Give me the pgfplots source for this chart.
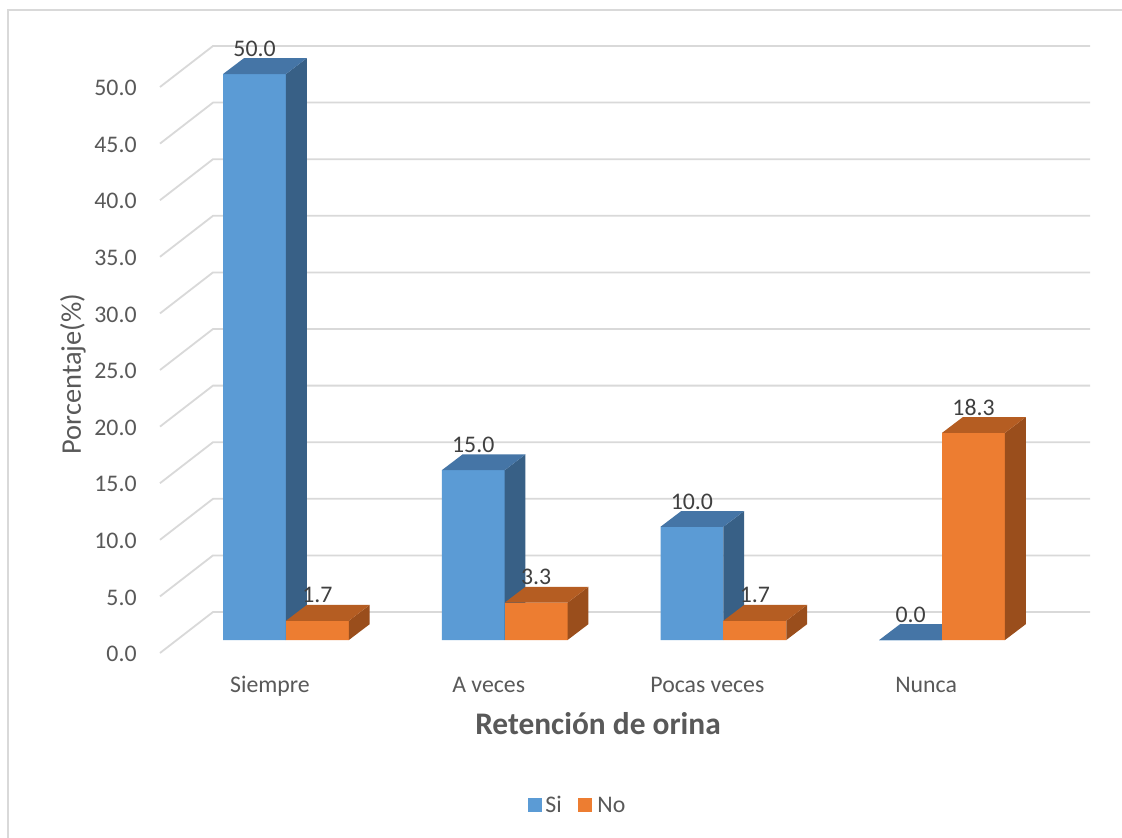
\documentclass[border=0pt]{standalone}
\usepackage{fontspec}
\setmainfont{Carlito}
\usepackage{pgfplots}
\pgfplotsset{compat=1.18}
\definecolor{siF}{HTML}{5B9BD5}
\definecolor{siT}{HTML}{4575A6}
\definecolor{siS}{HTML}{386086}
\definecolor{noF}{HTML}{ED7D31}
\definecolor{noT}{HTML}{B55D22}
\definecolor{noS}{HTML}{9A4E1C}
\definecolor{txt}{HTML}{595959}
\definecolor{lbl}{HTML}{404040}
\definecolor{gridc}{HTML}{D9D9D9}
% 3D bar body; the mark sits at the top of the bar's edge shared by the two series
\pgfdeclareplotmark{siDepth}{%
  \pgfmathsetlengthmacro\hh{\vy*5.66}%
  \pgfmathsetlengthmacro\hb{7.9-\vy*5.66}%
  \pgfsetfillcolor{siF}%
  \pgfpathrectanglecorners{\pgfpoint{-31.44pt}{-\hh}}{\pgfpoint{0pt}{0pt}}%
  \pgfusepath{fill}%
  \pgfsetfillcolor{siS}%
  \pgfpathmoveto{\pgfpoint{0pt}{0pt}}%
  \pgfpathlineto{\pgfpoint{10.4pt}{7.9pt}}%
  \pgfpathlineto{\pgfpoint{10.4pt}{\hb}}%
  \pgfpathlineto{\pgfpoint{0pt}{-\hh}}%
  \pgfpathclose
  \pgfusepath{fill}%
  \pgfsetfillcolor{siT}%
  \pgfpathmoveto{\pgfpoint{-31.44pt}{0pt}}%
  \pgfpathlineto{\pgfpoint{0pt}{0pt}}%
  \pgfpathlineto{\pgfpoint{10.4pt}{7.9pt}}%
  \pgfpathlineto{\pgfpoint{-21.04pt}{7.9pt}}%
  \pgfpathclose
  \pgfusepath{fill}%
}
\pgfdeclareplotmark{noDepth}{%
  \pgfmathsetlengthmacro\hh{\vy*5.66}%
  \pgfmathsetlengthmacro\hb{7.9-\vy*5.66}%
  \pgfsetfillcolor{noF}%
  \pgfpathrectanglecorners{\pgfpoint{0pt}{-\hh}}{\pgfpoint{31.44pt}{0pt}}%
  \pgfusepath{fill}%
  \pgfsetfillcolor{noS}%
  \pgfpathmoveto{\pgfpoint{31.44pt}{0pt}}%
  \pgfpathlineto{\pgfpoint{41.84pt}{7.9pt}}%
  \pgfpathlineto{\pgfpoint{41.84pt}{\hb}}%
  \pgfpathlineto{\pgfpoint{31.44pt}{-\hh}}%
  \pgfpathclose
  \pgfusepath{fill}%
  \pgfsetfillcolor{noT}%
  \pgfpathmoveto{\pgfpoint{0pt}{0pt}}%
  \pgfpathlineto{\pgfpoint{31.44pt}{0pt}}%
  \pgfpathlineto{\pgfpoint{41.84pt}{7.9pt}}%
  \pgfpathlineto{\pgfpoint{10.4pt}{7.9pt}}%
  \pgfpathclose
  \pgfusepath{fill}%
}
\newcommand{\tickfont}{\fontsize{11.9}{14}\selectfont}
\begin{document}
\begin{tikzpicture}
\path[use as bounding box] (0,0) rectangle (561pt,418.5pt);
\fill[white] (0,0) rectangle (561pt,418.5pt);
\draw[gridc, line width=0.8pt] (4pt,-5pt) -- (4pt,413.5pt) -- (570pt,413.5pt);
\foreach \v in {0,5,...,50}
  \draw[gridc, line width=0.9pt] (80pt,{92pt+5.66pt*\v}) -- (106.5pt,{112.5pt+5.66pt*\v}) -- (545pt,{112.5pt+5.66pt*\v});
\begin{axis}[
  at={(80pt,87.18pt)}, anchor=south west,
  x=109.35pt, y=5.66pt,
  xmin=-0.576, xmax=3.676, ymin=-2, ymax=53,
  enlargelimits=false, clip=false,
  axis line style={draw=none}, tick style={draw=none}, major tick length=0pt,
  /pgf/number format/assume math mode=true,
  ytick={0,5,...,50},
  yticklabel={\pgfmathprintnumber[fixed,fixed zerofill,precision=1]{\tick}},
  yticklabel style={anchor=east, inner sep=0pt, xshift=-11.5pt, yshift=-7pt, font=\tickfont, text=txt},
  xtick={0,1,2,3},
  xticklabels={Siempre,A veces,Pocas veces,Nunca},
  xticklabel style={anchor=base, inner sep=0pt, xshift=-8pt, yshift=-14.7pt, font=\tickfont, text=txt},
]
% front faces as bars
\addplot[ybar, bar width=0.2875, bar shift=-0.14375, fill=siF, draw=none, forget plot]
  coordinates {(0,50.0) (1,15.0) (2,10.0) (3,0.0)};
\addplot[ybar, bar width=0.2875, bar shift=0.14375, fill=noF, draw=none, forget plot]
  coordinates {(0,1.7) (1,3.3) (2,1.7) (3,18.3)};
% 3D bodies (front, side, top) and labels, Si then No
\addplot[only marks, mark=siDepth, mark options={draw=none}, point meta=y, forget plot,
  visualization depends on={rawy \as \vy},
  nodes near coords={\pgfmathprintnumber[fixed,fixed zerofill,precision=1]{\pgfplotspointmeta}},
  nodes near coords style={anchor=base, inner sep=0pt, xshift=-15.72pt, yshift=8.9pt, font=\tickfont, text=lbl},
] coordinates {(0,50.0) (1,15.0) (2,10.0) (3,0.0)};
\addplot[only marks, mark=noDepth, mark options={draw=none}, point meta=y, forget plot,
  visualization depends on={rawy \as \vy},
  nodes near coords={\pgfmathprintnumber[fixed,fixed zerofill,precision=1]{\pgfplotspointmeta}},
  nodes near coords style={anchor=base, inner sep=0pt, xshift=15.72pt, yshift=8.9pt, font=\tickfont, text=lbl},
] coordinates {(0,1.7) (1,3.3) (2,1.7) (3,18.3)};
\end{axis}
\node[rotate=90, text=txt, font=\fontsize{14.2}{17}\selectfont, inner sep=0pt] at (36.5pt,231.5pt) {Porcentaje(\%)};
\node[anchor=base, text=txt, font=\fontsize{15.7}{19}\selectfont\bfseries, inner sep=0pt] at (299pt,51.5pt) {Retención de orina};
\fill[siF] (264pt,12.5pt) rectangle (271pt,19.5pt);
\node[anchor=base west, inner sep=0pt, text=txt, font=\tickfont] at (272.5pt,12.5pt) {Si};
\fill[noF] (289pt,12.5pt) rectangle (296pt,19.5pt);
\node[anchor=base west, inner sep=0pt, text=txt, font=\tickfont] at (298.5pt,12.5pt) {No};
\end{tikzpicture}
\end{document}
